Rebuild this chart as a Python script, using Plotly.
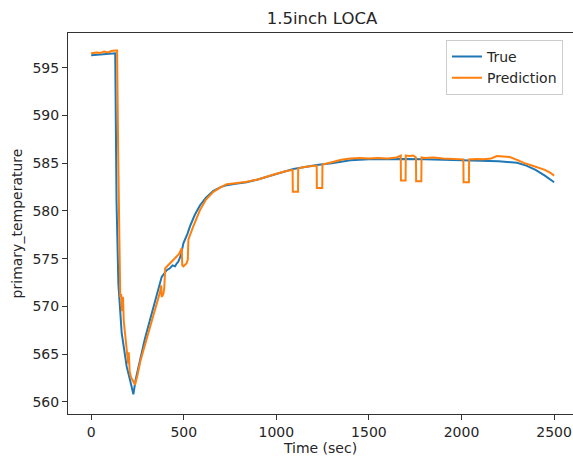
import plotly.graph_objects as go

# ---- data ----
t_true = [0, 40, 80, 120, 130, 137, 147, 165, 192, 210, 228, 240, 264, 290, 318, 350,
          381, 408, 425, 440, 453, 462, 471, 485, 498, 520, 534, 560, 588, 620, 660,
          700, 732, 780, 840, 900, 948, 1000, 1050, 1092, 1150, 1218, 1300, 1400, 1500,
          1600, 1700, 1800, 1900, 2000, 2100, 2200, 2300, 2350, 2400, 2450, 2500]
v_true = [596.3, 596.35, 596.4, 596.45, 596.5, 581.0, 572.4, 567.2, 563.7, 562.3, 560.8,
          562.3, 564.4, 566.6, 568.6, 571.0, 573.1, 573.8, 574.0, 574.3, 574.2, 574.5,
          574.7, 575.4, 576.6, 577.6, 578.4, 579.6, 580.6, 581.4, 582.1, 582.5, 582.7,
          582.85, 583.0, 583.3, 583.55, 583.85, 584.15, 584.4, 584.6, 584.8, 585.0,
          585.3, 585.4, 585.45, 585.45, 585.4, 585.35, 585.3, 585.25, 585.2, 585.05,
          584.75, 584.3, 583.7, 583.0]

t_pred = [0, 30, 50, 70, 90, 110, 130, 140, 146, 152, 157, 162, 166, 172, 176, 185, 195,
          200, 203, 208, 215, 225, 237, 250, 265, 282, 310, 340, 363, 372, 378, 381, 390,
          395, 400, 415, 430, 455, 475, 489, 492, 498, 515, 522, 525, 550, 588, 620, 660,
          700, 732, 780, 840, 900, 948, 1000, 1050, 1088, 1089, 1117, 1118, 1150, 1218,
          1219, 1248, 1249, 1300, 1350, 1400, 1450, 1500, 1550, 1600, 1650, 1672, 1673,
          1698, 1699, 1720, 1740, 1754, 1755, 1783, 1784, 1800, 1850, 1900, 1950, 2010,
          2011, 2040, 2041, 2080, 2120, 2160, 2190, 2230, 2260, 2300, 2340, 2380, 2420,
          2450, 2480, 2500]
v_pred = [596.5, 596.6, 596.55, 596.7, 596.6, 596.75, 596.8, 596.8, 586.0, 578.0, 571.0,
          571.3, 569.5, 571.0, 568.5, 566.8, 565.3, 564.0, 565.2, 563.2, 562.6, 562.2,
          561.8, 562.8, 564.2, 565.4, 567.3, 569.3, 570.7, 571.5, 572.2, 571.0, 571.3,
          572.0, 574.0, 574.3, 574.6, 575.0, 575.5, 576.1, 574.3, 574.2, 574.5, 574.9,
          577.0, 578.3, 580.1, 581.2, 582.0, 582.5, 582.8, 582.9, 583.05, 583.3, 583.6,
          583.9, 584.15, 584.3, 582.0, 582.0, 584.45, 584.6, 584.75, 582.4, 582.4, 584.85,
          585.1, 585.35, 585.5, 585.55, 585.5, 585.55, 585.5, 585.6, 585.8, 583.2, 583.2,
          585.8, 585.75, 585.8, 585.6, 583.1, 583.1, 585.6, 585.55, 585.6, 585.5, 585.45,
          585.4, 583.0, 583.0, 585.4, 585.45, 585.4, 585.5, 585.75, 585.7, 585.65, 585.35,
          585.0, 584.75, 584.5, 584.3, 584.0, 583.7]

x_ticks = [0, 500, 1000, 1500, 2000, 2500]
y_ticks = [560, 565, 570, 575, 580, 585, 590, 595]

FONT = "DejaVu Sans"

fig = go.Figure()
fig.add_trace(go.Scatter(x=t_true, y=v_true, mode="lines", name="True",
                         line=dict(color="#1f77b4", width=2)))
fig.add_trace(go.Scatter(x=t_pred, y=v_pred, mode="lines", name="Prediction",
                         line=dict(color="#ff7f0e", width=2)))

axis_common = dict(showgrid=False, zeroline=False, showline=True, linecolor="#333",
                   linewidth=1, ticks="outside", ticklen=5, tickcolor="#333",
                   tickfont=dict(family=FONT, size=14, color="#262626"))

fig.update_xaxes(range=[-125, 2602], tickvals=x_ticks, mirror=True,
                 title=dict(text="Time (sec)", font=dict(family=FONT, size=14, color="#262626"),
                            standoff=4),
                 **axis_common)
fig.update_yaxes(range=[558.74, 598.63], tickvals=y_ticks, mirror=False,
                 title=dict(text="primary_temperature", font=dict(family=FONT, size=14, color="#262626"),
                            standoff=6),
                 **axis_common)

fig.update_layout(
    width=573, height=458,
    margin=dict(l=68, r=0, t=33, b=44),
    plot_bgcolor="white", paper_bgcolor="white",
    font=dict(family=FONT, size=14, color="#262626"),
    title=dict(text="1.5inch LOCA", x=322 / 573, xanchor="center", y=1 - 18 / 458,
               yanchor="middle", font=dict(family=FONT, size=16.5, color="#262626")),
    legend=dict(x=0.7485, y=0.982, xanchor="left", yanchor="top",
                bordercolor="#cccccc", borderwidth=1, bgcolor="rgba(255,255,255,0.8)",
                font=dict(family=FONT, size=14, color="#262626"), itemwidth=30,
                tracegroupgap=0),
    showlegend=True,
)

fig.write_html("out.html")
